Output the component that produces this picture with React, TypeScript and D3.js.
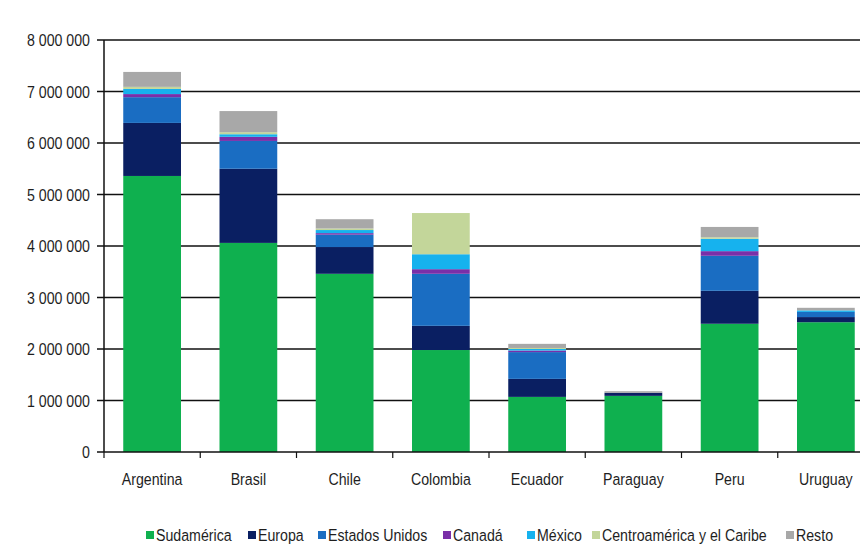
import React from "react";
import * as d3 from "d3";

const countries = ["Argentina", "Brasil", "Chile", "Colombia", "Ecuador", "Paraguay", "Peru", "Uruguay"];
const seriesNames = ["Sudamérica", "Europa", "Estados Unidos", "Canadá", "México", "Centroamérica y el Caribe", "Resto"];
const colors = ["#0fb04f", "#0a1f62", "#1a6dc2", "#7a2fa8", "#16b2ee", "#c3d69a", "#a8a8a8"];

const sudamerica = [5360000, 4060000, 3460000, 1980000, 1070000, 1090000, 2490000, 2520000];
const europa = [1030000, 1440000, 520000, 470000, 350000, 60000, 640000, 100000];
const estadosUnidos = [500000, 540000, 240000, 1010000, 520000, 0, 680000, 100000];
const canada = [60000, 80000, 30000, 90000, 30000, 0, 90000, 0];
const mexico = [100000, 50000, 60000, 290000, 30000, 0, 240000, 30000];
const centroamerica = [40000, 40000, 30000, 800000, 20000, 0, 30000, 0];
const resto = [290000, 410000, 180000, 0, 80000, 30000, 200000, 50000];

const yTicks = [0, 1000000, 2000000, 3000000, 4000000, 5000000, 6000000, 7000000, 8000000];

const seriesValues = [sudamerica, europa, estadosUnidos, canada, mexico, centroamerica, resto];

const FONT = "'Liberation Sans', Arial, sans-serif";
const SX = 0.86;
const FS = 16.5;

function T({ x, y, anchor, children }: { x: number; y: number; anchor?: string; children: any }) {
  return (
    <text
      transform={`translate(${x},${y}) scale(${SX},1)`}
      textAnchor={anchor || "start"}
      fontFamily={FONT}
      fontSize={FS}
      fill="#1e1e1e"
    >
      {children}
    </text>
  );
}

export default function App() {
  const W = 865, H = 546;
  const left = 104, right = 874, top = 40, bottom = 452;
  const x = d3.scaleBand<string>().domain(countries).range([left, right]).paddingInner(0.4).paddingOuter(0.2);
  const xOuter = d3.scaleBand<string>().domain(countries).range([left, right]);
  const y = d3.scaleLinear().domain([0, 8000000]).range([bottom, top]);

  const table = countries.map((c, i) => {
    const row: any = { country: c };
    seriesNames.forEach((s, j) => (row[s] = seriesValues[j][i]));
    return row;
  });
  const stacked = d3.stack<any>().keys(seriesNames)(table);
  const fmt = (v: number) => d3.format(",")(v).replace(/,/g, " ");

  const legendX = [146, 248, 318, 443, 527, 592, 786];

  return (
    <svg width={W} height={H} style={{ position: "absolute", left: 0, top: 0, background: "#fff" }}>
      <rect x={0} y={0} width={W} height={H} fill="#fff" />
      {yTicks.map((t) => (
        <g key={t}>
          <line x1={97} x2={t === 0 ? left : 860} y1={y(t)} y2={y(t)} stroke="#111" strokeWidth={1.5} />
          <T x={90} y={y(t) + 6} anchor="end">{fmt(t)}</T>
        </g>
      ))}
      {stacked.map((layer, j) => (
        <g key={seriesNames[j]} fill={colors[j]}>
          {layer.map((d, i) => (
            <rect
              key={countries[i]}
              x={x(countries[i])}
              width={x.bandwidth()}
              y={y(d[1])}
              height={Math.max(0, y(d[0]) - y(d[1]))}
            />
          ))}
        </g>
      ))}
      <line x1={left} x2={left} y1={top} y2={bottom} stroke="#111" strokeWidth={1.5} />
      <line x1={left} x2={860} y1={bottom} y2={bottom} stroke="#111" strokeWidth={1.5} />
      {countries.map((c) => (
        <g key={c}>
          <line x1={xOuter(c)!} x2={xOuter(c)!} y1={bottom} y2={bottom + 6} stroke="#111" strokeWidth={1.2} />
          <T x={xOuter(c)! + xOuter.bandwidth() / 2} y={485} anchor="middle">{c}</T>
        </g>
      ))}
      {seriesNames.map((s, i) => (
        <g key={s}>
          <rect x={legendX[i]} y={531} width={8} height={8} fill={colors[i]} />
          <T x={legendX[i] + 10} y={541}>{s}</T>
        </g>
      ))}
    </svg>
  );
}
